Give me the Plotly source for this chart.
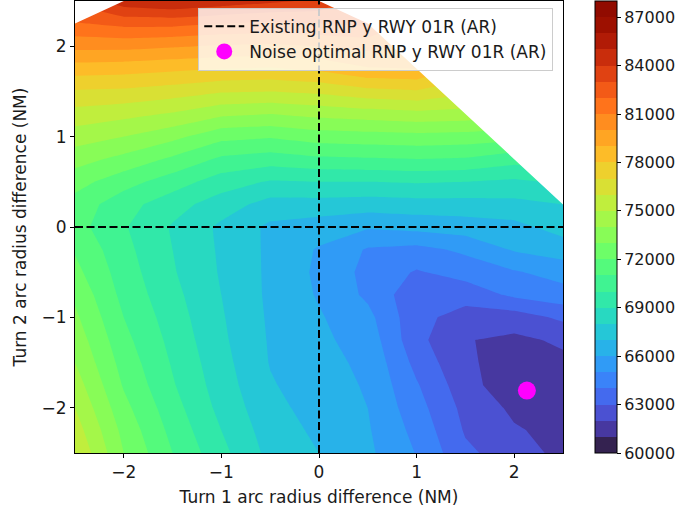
import plotly.graph_objects as go

# ---------------- data ----------------
x_vals = [-2.5, -2.0, -1.5, -1.0, -0.5, 0.0, 0.5, 1.0, 1.5, 2.0, 2.5]
y_vals_desc = [2.5, 2.25, 2.0, 1.75, 1.5, 1.25, 1.0, 0.75, 0.5, 0.25, 0.0,
               -0.25, -0.5, -0.75, -1.0, -1.25, -1.5, -1.75, -2.0, -2.25, -2.5]
N = None
noise_rows_desc = [
    [N,     84600, 85000, 84600, 84200, 83800, N,     N,     N,     N,     N],
    [81900, 82300, 82300, 82000, 81800, 82000, 82200, N,     N,     N,     N],
    [80300, 80300, 80100, 79900, 79800, 80000, 80300, N,     N,     N,     N],
    [78500, 78400, 78200, 78000, 77900, 78200, 78900, 79000, N,     N,     N],
    [76900, 76800, 76500, 76100, 76000, 76200, 76700, 76900, N,     N,     N],
    [75600, 75300, 74900, 74200, 74000, 74300, 74500, 74700, 74600, N,     N],
    [74500, 74000, 73300, 72300, 72100, 72500, 72600, 72700, 72600, N,     N],
    [73400, 72700, 71800, 70800, 70500, 70800, 70900, 71000, 70900, 70400, N],
    [72400, 71400, 70500, 69500, 68900, 69000, 69000, 69100, 69000, 68800, N],
    [71600, 70400, 69400, 68500, 67600, 67600, 67500, 67600, 67600, 67700, 68000],
    [71400, 70100, 68900, 67800, 66800, 66500, 66100, 66300, 66500, 66700, 67400],
    [71900, 70300, 69000, 67850, 66800, 65900, 64900, 64700, 65200, 66100, 66500],
    [72300, 70500, 69100, 67900, 66800, 65800, 64700, 63900, 64400, 64900, 65400],
    [72800, 70700, 69300, 68000, 66800, 65900, 64800, 63300, 63400, 64200, 64600],
    [73200, 71000, 69500, 68100, 66850, 66100, 65300, 63300, 62600, 62500, 63200],
    [73600, 71300, 69700, 68200, 66900, 66200, 65600, 63300, 62050, 61800, 62150],
    [74000, 71600, 69900, 68350, 66950, 66300, 65800, 63700, 62150, 61600, 61800],
    [74500, 71900, 70100, 68500, 67100, 66450, 65900, 64100, 62400, 61300, 61600],
    [75000, 72300, 70400, 68700, 67300, 66600, 66000, 64400, 62700, 61800, 61500],
    [75500, 72700, 70700, 69000, 67500, 66800, 66100, 64700, 62900, 62100, 61700],
    [76000, 73000, 71000, 69300, 67700, 67000, 66200, 64950, 63200, 62500, 61700],
]
level_start, level_end, level_step = 60000, 88000, 1000
cbar_ticks = [60000, 63000, 66000, 69000, 72000, 75000, 78000, 81000, 84000, 87000]
existing_x, existing_y = 0.0, 0.0
optimal_x, optimal_y = 2.13, -1.81
x_range = [-2.5, 2.5]
y_range = [-2.5, 2.5]
axis_ticks = [-2, -1, 0, 1, 2]
existing_label = "Existing RNP y RWY 01R (AR)"
optimal_label = "Noise optimal RNP y RWY 01R (AR)"
x_title = "Turn 1 arc radius difference (NM)"
y_title = "Turn 2 arc radius difference (NM)"

# ---------------- colours: turbo colormap sampled at band centres ----------------
def turbo(t):
    r = 0.13572138 + t*(4.61539260 + t*(-42.66032258 + t*(132.13108234 + t*(-152.94239396 + t*59.28637943))))
    g = 0.09140261 + t*(2.19418839 + t*(4.84296658 + t*(-14.18503333 + t*(4.27729857 + t*2.82956604))))
    b = 0.10667330 + t*(12.64194608 + t*(-60.58204836 + t*(110.36276771 + t*(-89.90310912 + t*27.34824973))))
    cl = lambda v: int(round(255 * min(1.0, max(0.0, v))))
    return 'rgb(%d,%d,%d)' % (cl(r), cl(g), cl(b))

n_bands = (level_end - level_start) // level_step
band_colors = [turbo((i + 0.5) / n_bands) for i in range(n_bands)]

# contour colour map: plotly maps the scale onto start - step/2 .. end + step/2
n_lev = n_bands + 1
cont_scale = [[0.0, band_colors[0]]]
for i, c in enumerate(band_colors):
    cont_scale.append([(i + 0.5) / n_lev, c])
    cont_scale.append([(i + 1.5) / n_lev, c])
cont_scale.append([1.0, band_colors[-1]])

cb_scale = []
for i, c in enumerate(band_colors):
    cb_scale.append([i / n_bands, c])
    cb_scale.append([(i + 1) / n_bands, c])

# ---------------- arrays ----------------
y_vals = y_vals_desc[::-1]
z = noise_rows_desc[::-1]

# white mask over the area without data (above the top valid point of each column)
tops = []
for i, xv in enumerate(x_vals):
    tops.append(max(y_vals[j] for j in range(len(y_vals)) if z[j][i] is not None))
pad = 1.0
mask_x = [x_vals[0] - pad] + x_vals + [x_vals[-1] + pad, x_vals[-1] + pad, x_vals[0] - pad, x_vals[0] - pad]
mask_y = [tops[0]] + tops + [tops[-1], y_range[1] + pad, y_range[1] + pad, tops[0]]

FONT = 'DejaVu Sans'
TXT = '#1a1a1a'
FS = 17

fig = go.Figure()
fig.add_trace(go.Contour(
    x=x_vals, y=y_vals, z=z, connectgaps=True,
    zauto=False, zmin=level_start - level_step / 2, zmax=level_end + level_step / 2,
    autocontour=False,
    contours=dict(start=level_start, end=level_end, size=level_step,
                  coloring='fill', showlines=False),
    line=dict(width=0, smoothing=0),
    colorscale=cont_scale, showscale=False, hoverinfo='skip', showlegend=False,
))
fig.add_trace(go.Scatter(
    x=mask_x, y=mask_y, mode='lines', fill='toself', fillcolor='white',
    line=dict(width=0, color='rgba(0,0,0,0)'), hoverinfo='skip', showlegend=False,
))
fig.add_trace(go.Scatter(
    x=[existing_x, existing_x, None, x_range[0], x_range[1]],
    y=[y_range[0], y_range[1], None, existing_y, existing_y],
    mode='lines', name=existing_label, legendgroup='a',
    line=dict(color='black', width=2, dash='8px,3.5px'),
))
fig.add_trace(go.Scatter(
    x=[optimal_x], y=[optimal_y], mode='markers', name=optimal_label, legendgroup='b',
    marker=dict(color='#ff00ff', size=18),
))
fig.add_trace(go.Scatter(
    x=[None], y=[None], mode='markers', showlegend=False, hoverinfo='skip',
    marker=dict(color=[level_start], cmin=level_start, cmax=level_end,
                colorscale=cb_scale, showscale=True,
                colorbar=dict(thickness=22, len=1, lenmode='fraction', y=0.5, yanchor='middle',
                              x=1.0656, xanchor='left', xpad=0, ypad=0,
                              outlinewidth=1, outlinecolor='black',
                              ticks='outside', ticklen=4, tickwidth=1, tickcolor='black',
                              tickvals=cbar_ticks, ticktext=[str(v) for v in cbar_ticks],
                              tickfont=dict(size=16, color=TXT, family=FONT))),
))

axis_common = dict(showline=True, linecolor='black', linewidth=1, mirror=True,
                   ticks='outside', ticklen=4, tickwidth=1, tickcolor='black',
                   showgrid=False, zeroline=False, automargin=False,
                   tickfont=dict(size=FS, color=TXT, family=FONT))
fig.update_xaxes(range=x_range, tickvals=axis_ticks,
                 title=dict(text=x_title, font=dict(size=FS, color=TXT, family=FONT), standoff=9),
                 **axis_common)
fig.update_yaxes(range=y_range, tickvals=axis_ticks,
                 title=dict(text=y_title, font=dict(size=FS, color=TXT, family=FONT), standoff=10),
                 **axis_common)
fig.update_layout(
    width=683, height=512,
    margin=dict(l=75, r=120, t=1, b=59, autoexpand=False),
    paper_bgcolor='white', plot_bgcolor='white',
    font=dict(family=FONT, size=FS, color=TXT),
    legend=dict(x=0.98, y=0.985, xanchor='right', yanchor='top',
                bgcolor='rgba(255,255,255,0.8)', bordercolor='#cccccc', borderwidth=1,
                font=dict(size=FS, family=FONT, color=TXT), tracegroupgap=0, itemwidth=40),
)
fig.write_html("out.html", config={'displayModeBar': False},
               post_script="document.body.style.margin='0px';document.body.style.overflow='hidden';")
